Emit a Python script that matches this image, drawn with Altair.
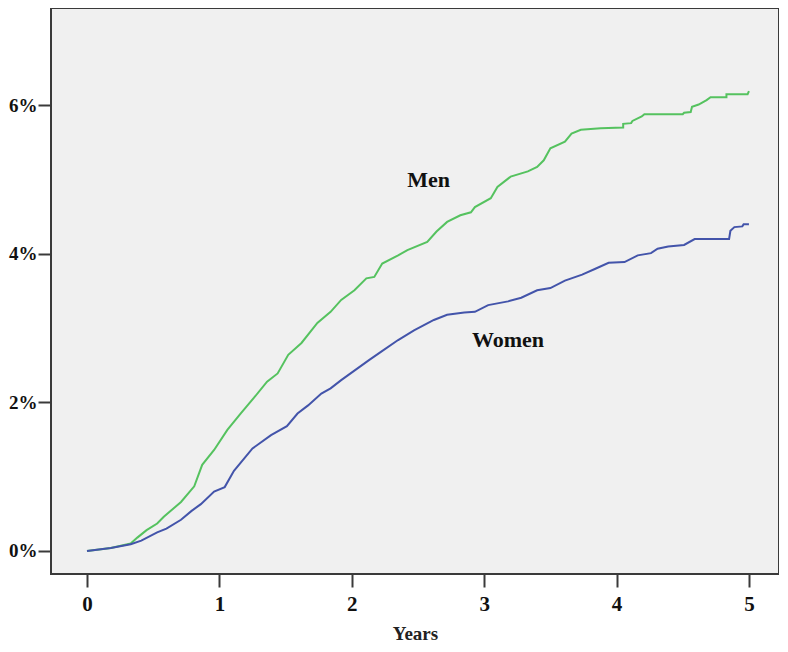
import altair as alt
import pandas as pd

# Cumulative incidence (%) by years of follow-up
men_years = [0, 0.18, 0.33, 0.38, 0.45, 0.53, 0.58, 0.71, 0.81, 0.87, 0.96, 1.06, 1.16,
             1.26, 1.36, 1.44, 1.52, 1.62, 1.74, 1.84, 1.92, 2.02, 2.11, 2.17, 2.23,
             2.35, 2.42, 2.57, 2.64, 2.72, 2.82, 2.90, 2.93, 3.05, 3.10, 3.20, 3.33,
             3.40, 3.45, 3.50, 3.61, 3.66, 3.73, 3.88, 4.05, 4.05, 4.11, 4.12, 4.19,
             4.21, 4.50, 4.51, 4.56, 4.57, 4.62, 4.64, 4.68, 4.71, 4.83, 4.83, 4.99, 5.00]
men_pct = [0, 0.04, 0.10, 0.18, 0.28, 0.37, 0.46, 0.66, 0.87, 1.16, 1.36, 1.63, 1.85,
           2.06, 2.28, 2.39, 2.64, 2.80, 3.07, 3.22, 3.38, 3.51, 3.67, 3.69, 3.87,
           3.98, 4.05, 4.16, 4.30, 4.43, 4.52, 4.56, 4.63, 4.75, 4.90, 5.04, 5.11,
           5.17, 5.26, 5.42, 5.51, 5.62, 5.67, 5.69, 5.70, 5.75, 5.76, 5.79, 5.85,
           5.88, 5.88, 5.90, 5.91, 5.98, 6.01, 6.03, 6.07, 6.11, 6.11, 6.15, 6.15, 6.19]

women_years = [0, 0.18, 0.33, 0.41, 0.53, 0.60, 0.71, 0.79, 0.86, 0.96, 1.04, 1.11, 1.25,
               1.39, 1.51, 1.59, 1.67, 1.77, 1.84, 1.92, 2.13, 2.22, 2.35, 2.47, 2.62,
               2.72, 2.85, 2.93, 3.03, 3.18, 3.28, 3.40, 3.50, 3.61, 3.74, 3.84, 3.94,
               4.06, 4.16, 4.26, 4.31, 4.39, 4.51, 4.59, 4.85, 4.86, 4.89, 4.95, 4.96, 5.00]
women_pct = [0, 0.04, 0.09, 0.14, 0.25, 0.30, 0.42, 0.54, 0.63, 0.80, 0.86, 1.08, 1.38,
             1.56, 1.68, 1.85, 1.96, 2.12, 2.19, 2.30, 2.57, 2.68, 2.84, 2.97, 3.11,
             3.18, 3.21, 3.22, 3.31, 3.36, 3.41, 3.51, 3.54, 3.64, 3.72, 3.80, 3.88,
             3.89, 3.98, 4.01, 4.07, 4.10, 4.12, 4.20, 4.20, 4.31, 4.36, 4.37, 4.40, 4.40]

groups = ["Men", "Women"]
colors = ["#55c25f", "#4354aa"]
label_years = [2.58, 3.18]
label_pct = [4.90, 2.75]
x_ticks = [0, 1, 2, 3, 4, 5]
y_ticks = [0, 2, 4, 6]

rows = []
for g, xs, ys in [("Men", men_years, men_pct), ("Women", women_years, women_pct)]:
    for i, (xv, yv) in enumerate(zip(xs, ys)):
        rows.append({"group": g, "years": xv, "pct": yv, "idx": i})
df = pd.DataFrame(rows)
labels = pd.DataFrame({"group": groups, "years": label_years, "pct": label_pct})

x_scale = alt.Scale(domain=[-0.272, 5.227], nice=False, zero=False)
y_scale = alt.Scale(domain=[-0.31, 7.31], nice=False, zero=False)

lines = alt.Chart(df).mark_line(strokeWidth=2).encode(
    x=alt.X("years:Q", scale=x_scale,
            axis=alt.Axis(values=x_ticks, title="Years", format="d", domain=False,
                          grid=False, tickSize=13, tickWidth=2, tickColor="#3a3a3a",
                          labelFont="Liberation Serif", labelFontWeight="bold",
                          labelFontSize=21, labelColor="#111", labelPadding=6,
                          titleFont="Liberation Serif", titleFontWeight="bold",
                          titleFontSize=19, titleColor="#222", titlePadding=10)),
    y=alt.Y("pct:Q", scale=y_scale,
            axis=alt.Axis(values=y_ticks, title=None, domain=False, grid=False,
                          labelExpr="datum.value + '%'",
                          tickSize=13, tickWidth=2, tickColor="#3a3a3a",
                          labelFont="Liberation Serif", labelFontWeight="bold",
                          labelFontSize=19, labelColor="#111", labelPadding=1)),
    color=alt.Color("group:N", scale=alt.Scale(domain=groups, range=colors), legend=None),
    order="idx:Q",
)

text = alt.Chart(labels).mark_text(
    font="Liberation Serif", fontWeight="bold", fontSize=22, color="#111",
    align="center", baseline="alphabetic",
).encode(
    x=alt.X("years:Q", scale=x_scale),
    y=alt.Y("pct:Q", scale=y_scale),
    text="group:N",
)

chart = alt.layer(lines, text).properties(
    width=728, height=566,
    padding=0,
    background="white",
).configure_view(
    fill="#f0f0f0", stroke="#3a3a3a", strokeWidth=2,
)

chart.save("out.html", embed_options={"renderer": "svg", "actions": False})
